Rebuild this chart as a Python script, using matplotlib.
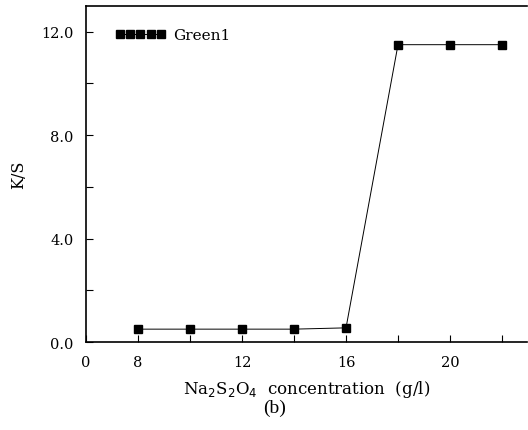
import matplotlib
matplotlib.use('Agg')
import matplotlib.pyplot as plt

# data (b)
conc = [8, 10, 12, 14, 16, 18, 20, 22]
ks = [0.5, 0.5, 0.5, 0.5, 0.55, 11.5, 11.5, 11.5]
series_name = 'Green1'

x_ticks = [6, 8, 10, 12, 14, 16, 18, 20, 22]
x_labels = ['0', '8', '', '12', '', '16', '', '20', '']
y_ticks = [0, 2, 4, 6, 8, 10, 12]
y_labels = ['0.0', '', '4.0', '', '8.0', '', '12.0']

plt.rcParams['font.family'] = ['DejaVu Serif']

fig = plt.figure(figsize=(5.28, 4.31), dpi=100)
ax = fig.add_axes([0.163, 0.204, 0.835, 0.78])

ax.plot(conc, ks, color='black', lw=0.7, marker='s', ms=6,
        mfc='black', mec='black', label=series_name)

ax.set_xlim(6, 22.96)
ax.set_ylim(0, 13.0)
ax.set_xticks(x_ticks)
ax.set_xticklabels(x_labels)
ax.set_yticks(y_ticks)
ax.set_yticklabels(y_labels)
ax.tick_params(direction='in', length=5, width=0.8, labelsize=10.5, pad=9)
ax.spines['right'].set_visible(False)
for s in ['left', 'bottom', 'top']:
    ax.spines[s].set_linewidth(1.2)

ax.set_ylabel('K/S', fontsize=11.5, labelpad=10)
ax.set_xlabel('Na$_2$S$_2$O$_4$  concentration  (g/l)', fontsize=12, labelpad=7)
fig.text(0.52, 0.053, '(b)', ha='center', va='center', fontsize=14,
         family='Liberation Serif')

ax.legend(loc='upper left', frameon=False, numpoints=5, handlelength=3.3,
          markerscale=0.85, handletextpad=0.5, fontsize=11,
          bbox_to_anchor=(0.035, 0.975), borderaxespad=0.5)

fig.savefig('out.png', dpi=100)
